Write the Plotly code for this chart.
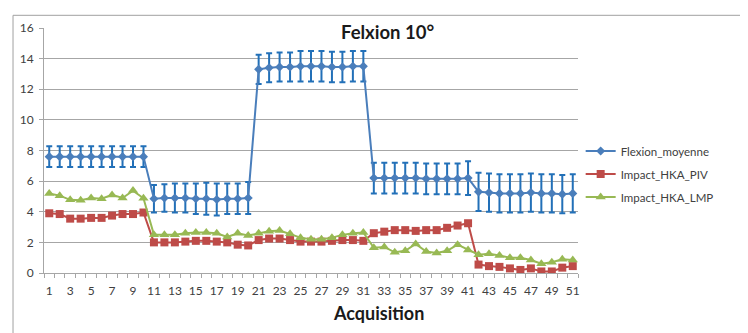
import plotly.graph_objects as go

acquisition = list(range(1, 52))
x_tick_labels = [str(v) for v in range(1, 52, 2)]
y_ticks = [0, 2, 4, 6, 8, 10, 12, 14, 16]

flexion_moyenne = [
    7.6, 7.6, 7.6, 7.6, 7.6, 7.6, 7.6, 7.6, 7.6, 7.6,
    4.85, 4.9, 4.9, 4.9, 4.85, 4.85, 4.8, 4.85, 4.85, 4.9,
    13.3, 13.4, 13.45, 13.45, 13.5, 13.5, 13.5, 13.45, 13.45, 13.5, 13.5,
    6.2, 6.2, 6.2, 6.2, 6.2, 6.15, 6.15, 6.15, 6.15, 6.2,
    5.3, 5.25, 5.2, 5.2, 5.2, 5.25, 5.2, 5.2, 5.15, 5.2,
]
flexion_err = [
    0.68, 0.68, 0.68, 0.68, 0.68, 0.68, 0.68, 0.68, 0.68, 0.68,
    0.9, 0.9, 0.95, 0.95, 1.0, 1.05, 1.05, 1.0, 1.0, 1.05,
    0.95, 0.95, 0.95, 0.95, 1.0, 1.0, 1.0, 1.0, 1.0, 1.0, 1.0,
    1.0, 1.0, 1.0, 1.0, 1.0, 1.0, 1.0, 1.0, 1.0, 1.1,
    1.25, 1.25, 1.25, 1.25, 1.25, 1.25, 1.25, 1.25, 1.25, 1.25,
]
impact_hka_piv = [
    3.9, 3.85, 3.55, 3.55, 3.6, 3.6, 3.75, 3.85, 3.85, 3.95,
    2.0, 2.0, 2.0, 2.05, 2.1, 2.1, 2.05, 2.0, 1.85, 1.8,
    2.15, 2.25, 2.25, 2.15, 2.05, 2.05, 2.05, 2.1, 2.15, 2.15, 2.1,
    2.6, 2.7, 2.8, 2.8, 2.75, 2.8, 2.8, 2.95, 3.1, 3.25,
    0.55, 0.45, 0.4, 0.3, 0.2, 0.3, 0.1, 0.1, 0.35, 0.45,
]
impact_hka_lmp = [
    5.2, 5.05, 4.78, 4.75, 4.9, 4.85, 5.1, 4.9, 5.38, 4.88,
    2.5, 2.5, 2.5, 2.6, 2.65, 2.65, 2.6, 2.35, 2.6, 2.45,
    2.6, 2.72, 2.78, 2.57, 2.31, 2.21, 2.21, 2.31, 2.49, 2.6, 2.65,
    1.65, 1.7, 1.35, 1.45, 1.9, 1.4, 1.3, 1.45, 1.85, 1.5,
    1.2, 1.25, 1.15, 1.0, 1.0, 0.85, 0.6, 0.7, 0.9, 0.85,
]

FONT = "Lato"
TXT = "#404040"
GRID = "#a6a6a6"

fig = go.Figure()
fig.add_trace(go.Scatter(
    x=acquisition, y=flexion_moyenne, name="Flexion_moyenne", legendgroup="a",
    mode="lines+markers",
    line=dict(color="#4a7ebb", width=2),
    marker=dict(symbol="diamond", size=7, color="#4a7ebb"),
    error_y=dict(type="data", array=flexion_err, visible=True,
                 color="#2270b8", thickness=2, width=3),
))
fig.add_trace(go.Scatter(
    x=acquisition, y=impact_hka_piv, name="Impact_HKA_PIV", legendgroup="b",
    mode="lines+markers",
    line=dict(color="#be4b48", width=2),
    marker=dict(symbol="square", size=8, color="#be4b48"),
))
fig.add_trace(go.Scatter(
    x=acquisition, y=impact_hka_lmp, name="Impact_HKA_LMP", legendgroup="c",
    mode="lines+markers",
    line=dict(color="#98b954", width=2),
    marker=dict(symbol="triangle-up", size=9, color="#98b954"),
))

fig.update_layout(
    width=748, height=333,
    margin=dict(l=35, r=178, t=14, b=68),
    paper_bgcolor="white", plot_bgcolor="white",
    font=dict(family=FONT, size=12, color=TXT),
    showlegend=True,
    legend=dict(x=1.005, y=0.404, xanchor="left", yanchor="middle",
                font=dict(family=FONT, size=11.5, color=TXT),
                tracegroupgap=4, bgcolor="rgba(0,0,0,0)"),
    xaxis=dict(
        range=[0.5, 51.5], showgrid=False, zeroline=False,
        tickmode="array", tickvals=acquisition[::2], ticktext=x_tick_labels,
        ticks="", showline=True, linecolor=GRID, linewidth=1,
        tickfont=dict(family=FONT, size=12, color=TXT),
        ticklabelstandoff=7,
        minor=dict(ticks="outside", tick0=0.5, dtick=1, ticklen=4,
                   tickcolor=GRID, showgrid=False),
    ),
    yaxis=dict(
        range=[0, 16], tickvals=y_ticks, showgrid=True, gridcolor=GRID,
        gridwidth=1, zeroline=False, showline=True, linecolor=GRID,
        ticks="outside", ticklen=4, tickcolor=GRID,
        ticklabelstandoff=3,
        tickfont=dict(family=FONT, size=12, color=TXT),
    ),
    annotations=[
        dict(text="<b>Felxion 10°</b>", xref="paper", yref="paper",
             x=0.643, y=0.982, xanchor="center", yanchor="middle",
             showarrow=False,
             font=dict(family=FONT, size=18.5, color="#1a1a1a")),
        dict(text="<b>Acquisition</b>", xref="paper", yref="paper",
             x=0.626, y=-0.163, xanchor="center", yanchor="middle",
             showarrow=False,
             font=dict(family=FONT, size=18, color="#1a1a1a")),
    ],
    shapes=[
        dict(type="rect", xref="paper", yref="paper",
             x0=-0.058, x1=1.4, y0=-0.4, y1=1.0518,
             line=dict(color="#a0a0a0", width=1), layer="below"),
    ],
)

fig.write_html("out.html")
